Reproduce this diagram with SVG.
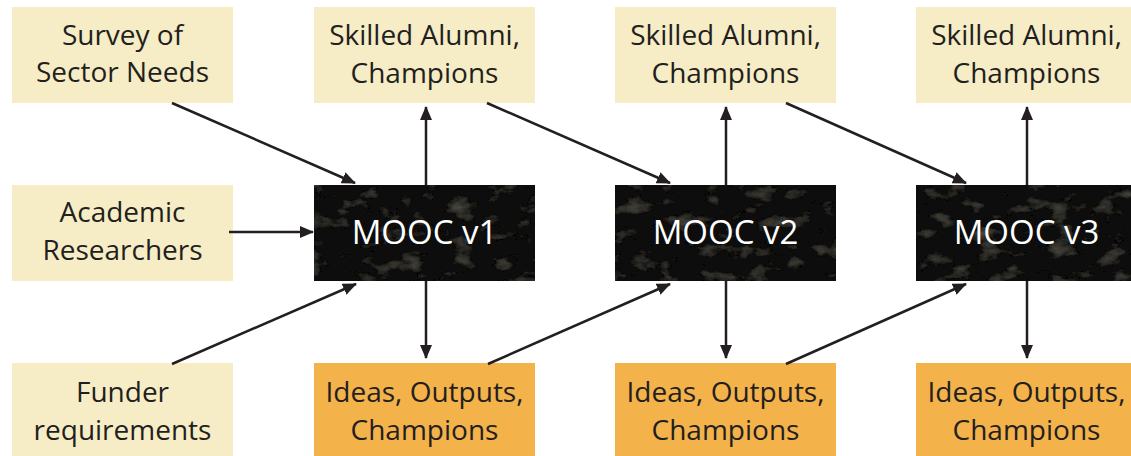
<svg xmlns="http://www.w3.org/2000/svg" width="1131" height="456" viewBox="0 0 1131 456">
<style>
.cream{fill:#f6edc6}
.orange{fill:#f4b24b}
.mooc{fill:#0a0908}
.t{font-family:"Open Sans","Liberation Sans",sans-serif;font-size:28px;fill:#231f20;text-anchor:middle}
.m{font-family:"Open Sans","Liberation Sans",sans-serif;font-size:33px;fill:#ffffff;text-anchor:middle}
.c{stroke:#231f20;stroke-width:2.5;fill:none;marker-end:url(#ah)}
</style>
<defs>
<marker id="ah" markerWidth="14" markerHeight="12" refX="13" refY="6" orient="auto" markerUnits="userSpaceOnUse">
<path d="M0,0 L14,6 L0,12 Z" fill="#231f20"/>
</marker>
<filter id="grain" x="0" y="0" width="100%" height="100%">
<feTurbulence type="fractalNoise" baseFrequency="0.04 0.07" numOctaves="5" seed="7" result="n"/>
<feColorMatrix in="n" type="matrix" values="0 0 0 0 0.40  0 0 0 0 0.38  0 0 0 0 0.31  0 0 0 0.4 -0.22" result="g"/>
<feComposite in="g" in2="SourceGraphic" operator="in" result="gi"/>
<feMerge><feMergeNode in="SourceGraphic"/><feMergeNode in="gi"/></feMerge>
</filter>
</defs>

<g id="survey"><rect class="cream" x="12" y="7" width="221" height="96"/><text class="t" x="122.5" y="45">Survey of</text><text class="t" x="122.5" y="82">Sector Needs</text></g>
<g id="academic"><rect class="cream" x="12" y="185" width="221" height="96"/><text class="t" x="122.5" y="222">Academic</text><text class="t" x="122.5" y="260">Researchers</text></g>
<g id="funder"><rect class="cream" x="12" y="363" width="221" height="93"/><text class="t" x="122.5" y="402">Funder</text><text class="t" x="122.5" y="440">requirements</text></g>

<g id="alumni1"><rect class="cream" x="314" y="7" width="221" height="96"/><text class="t" x="424.5" y="45">Skilled Alumni,</text><text class="t" x="424.5" y="83">Champions</text></g>
<g id="alumni2"><rect class="cream" x="615" y="7" width="221" height="96"/><text class="t" x="725.5" y="45">Skilled Alumni,</text><text class="t" x="725.5" y="83">Champions</text></g>
<g id="alumni3"><rect class="cream" x="916" y="7" width="221" height="96"/><text class="t" x="1026.5" y="45">Skilled Alumni,</text><text class="t" x="1026.5" y="83">Champions</text></g>

<g id="mooc1"><rect class="mooc" x="314" y="185" width="221" height="96" filter="url(#grain)"/><text class="m" x="424.5" y="244">MOOC v1</text></g>
<g id="mooc2"><rect class="mooc" x="615" y="185" width="221" height="96" filter="url(#grain)"/><text class="m" x="725.5" y="244">MOOC v2</text></g>
<g id="mooc3"><rect class="mooc" x="916" y="185" width="221" height="96" filter="url(#grain)"/><text class="m" x="1026.5" y="244">MOOC v3</text></g>

<g id="ideas1"><rect class="orange" x="314" y="363" width="221" height="93"/><text class="t" x="424.5" y="402">Ideas, Outputs,</text><text class="t" x="424.5" y="440">Champions</text></g>
<g id="ideas2"><rect class="orange" x="615" y="363" width="221" height="93"/><text class="t" x="725.5" y="402">Ideas, Outputs,</text><text class="t" x="725.5" y="440">Champions</text></g>
<g id="ideas3"><rect class="orange" x="916" y="363" width="221" height="93"/><text class="t" x="1026.5" y="402">Ideas, Outputs,</text><text class="t" x="1026.5" y="440">Champions</text></g>

<g id="connectors">
<line class="c" x1="172" y1="103" x2="355" y2="183"/>
<line class="c" x1="229" y1="232" x2="313" y2="232"/>
<line class="c" x1="172" y1="364" x2="356" y2="284"/>
<line class="c" x1="426" y1="185" x2="426" y2="107"/>
<line class="c" x1="426" y1="281" x2="426" y2="358"/>
<line class="c" x1="487" y1="103" x2="670" y2="183"/>
<line class="c" x1="488" y1="364" x2="670" y2="284"/>
<line class="c" x1="726" y1="185" x2="726" y2="107"/>
<line class="c" x1="726" y1="281" x2="726" y2="358"/>
<line class="c" x1="786" y1="103" x2="966" y2="183"/>
<line class="c" x1="786" y1="364" x2="966" y2="284"/>
<line class="c" x1="1027" y1="185" x2="1027" y2="107"/>
<line class="c" x1="1027" y1="281" x2="1027" y2="358"/>
</g>
</svg>
